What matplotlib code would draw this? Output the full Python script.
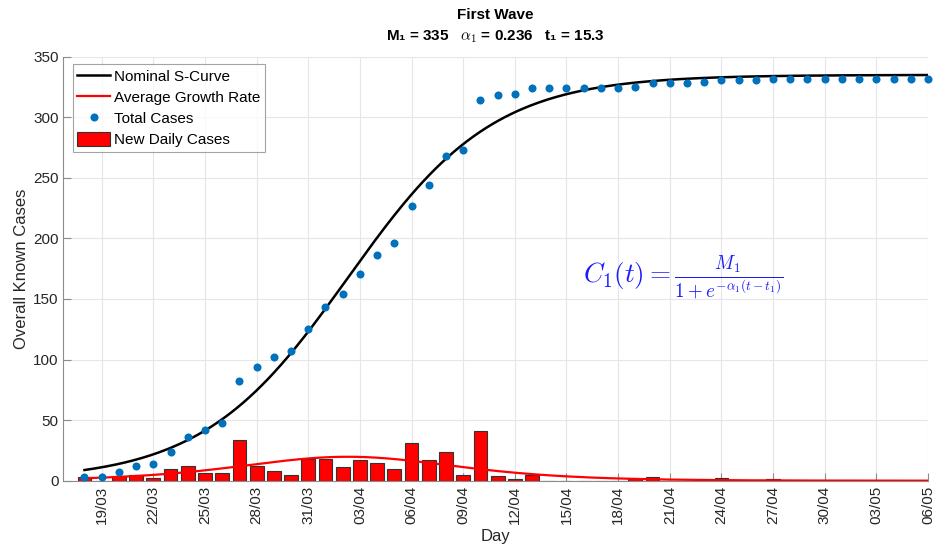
import matplotlib
matplotlib.use("Agg")
import matplotlib.pyplot as plt
import numpy as np
import pandas as pd

plt.rcParams['font.family'] = ['Liberation Sans', 'DejaVu Sans']
plt.rcParams['mathtext.fontset'] = 'cm'

# data
start_date = '2020-03-18'
total_cases = [3, 3, 7, 12, 14, 24, 36, 42, 48, 82,
               94, 102, 107, 125, 143, 154, 171, 186, 196, 227,
               244, 268, 273, 314, 318, 319, 324, 324, 324, 324,
               324, 324, 325, 328, 328, 328, 329, 331, 331, 331,
               332, 332, 332, 332, 332, 332, 332, 332, 332, 332]
new_cases = [3, 0, 4, 5, 2, 10, 12, 6, 6, 34,
             12, 8, 5, 18, 18, 11, 17, 15, 10, 31,
             17, 24, 5, 41, 4, 1, 5, 0, 0, 0,
             0, 0, 1, 3, 0, 0, 1, 2, 0, 0,
             1, 0, 0, 0, 0, 0, 0, 0, 0, 0]

# fitted model parameters (from the title)
M1 = 335
alpha1 = 0.236
t1 = 15.3

dates = pd.date_range(start_date, periods=len(total_cases))
date_labels = [d.strftime('%d/%m') for d in dates]
days = np.arange(len(total_cases))

t = np.linspace(0, days[-1], 400)
s_curve = M1 / (1 + np.exp(-alpha1 * (t - t1)))
growth = M1 * alpha1 * np.exp(-alpha1 * (t - t1)) / (1 + np.exp(-alpha1 * (t - t1)))**2

fig = plt.figure(figsize=(9.38, 5.48), dpi=100)
ax = fig.add_axes([0.0675, 0.1228, 0.9218, 0.7737])

bars = ax.bar(days, new_cases, width=0.8, color='#ff0000', edgecolor='#333333',
              linewidth=0.8, label='New Daily Cases', zorder=2)
l1, = ax.plot(t, s_curve, color='black', lw=1.8, label='Nominal S-Curve', zorder=3)
l2, = ax.plot(t, growth, color='#ff0000', lw=1.6, label='Average Growth Rate', zorder=3)
l3, = ax.plot(days, total_cases, 'o', color='#0072BD', ms=5.8, mec='none',
              label='Total Cases', zorder=4, clip_on=False)

ax.set_xlim(-1.23, days[-1])
ax.set_ylim(0, 350)
ax.set_yticks(np.arange(0, 351, 50))
ax.set_xticks(days[1::3])
ax.set_xticklabels(date_labels[1::3], rotation=90)

ax.grid(True, color='#e6e6e6', lw=0.8, zorder=0)
ax.set_axisbelow(True)
for side in ['top', 'right']:
    ax.spines[side].set_visible(False)
for side in ['left', 'bottom']:
    ax.spines[side].set_color('#8c8c8c')
    ax.spines[side].set_linewidth(0.8)
ax.tick_params(direction='in', length=6, color='#8c8c8c', labelsize=11,
               labelcolor='#262626')

ax.set_xlabel('Day', fontsize=12, color='#262626', labelpad=4)
ax.set_ylabel('Overall Known Cases', fontsize=12, color='#262626', labelpad=3)

ax.set_title('First Wave\nM\u2081 = 335   $\\alpha_1$ = 0.236   t\u2081 = 15.3',
             fontsize=11, fontweight='bold', pad=12, linespacing=1.5)

ax.text(28.95, 167, r'$C_1(t) = \frac{M_1}{1+e^{-\alpha_1(t-t_1)}}$',
        color='#1a1aff', fontsize=19.5, ha='left', va='center')

leg = ax.legend(handles=[l1, l2, l3, bars], loc='upper left',
                bbox_to_anchor=(0.011, 0.982), fontsize=11, frameon=True,
                fancybox=False, edgecolor='#8c8c8c', handlelength=2.15,
                handleheight=1.1, handletextpad=0.25, borderpad=0.3,
                labelspacing=0.35, borderaxespad=0)
leg.get_frame().set_linewidth(0.8)

fig.savefig('out.png', dpi=100)
